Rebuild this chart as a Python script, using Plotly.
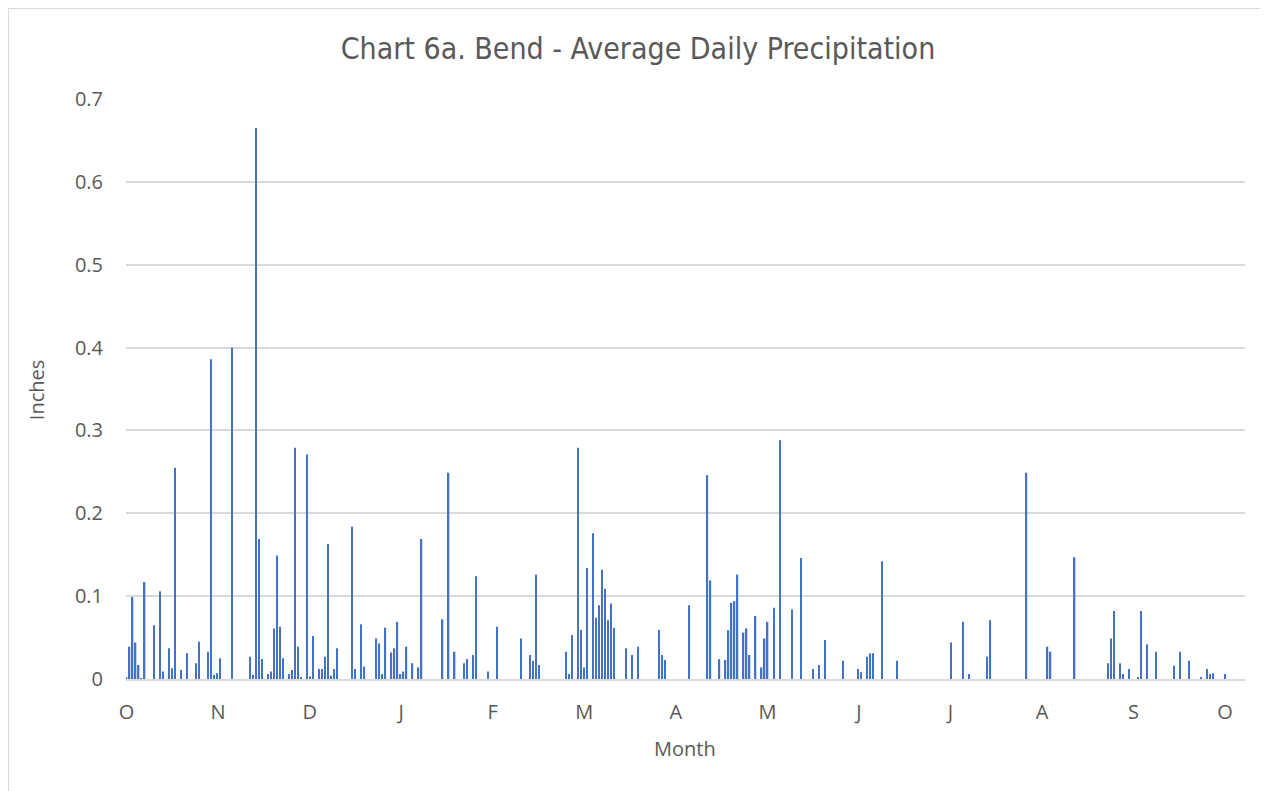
import plotly.graph_objects as go

# day index from Oct 1, average daily precipitation (inches)
days = [0, 1, 2, 3, 4, 5, 6, 9, 11, 12, 14, 15, 16, 18, 20, 23, 24, 27, 28, 29,
        30, 31, 35, 41, 42, 43, 44, 45, 47, 48, 49, 50, 51, 52, 54, 55, 56, 57, 58, 60,
        61, 62, 64, 65, 66, 67, 68, 69, 70, 75, 76, 78, 79, 83, 84, 85, 86, 88, 89, 90,
        91, 92, 93, 95, 97, 98, 105, 107, 109, 112, 113, 115, 116, 120, 123, 131, 134, 135, 136, 137,
        146, 147, 148, 150, 151, 152, 153, 155, 156, 157, 158, 159, 160, 161, 162, 166, 168, 170, 177, 178,
        179, 187, 193, 194, 197, 199, 200, 201, 202, 203, 205, 206, 207, 209, 211, 212, 213, 215, 217, 221,
        224, 228, 230, 232, 238, 243, 244, 246, 247, 248, 251, 256, 274, 278, 280, 286, 287, 299, 306, 307,
        315, 326, 327, 328, 330, 331, 333, 336, 337, 339, 342, 348, 350, 353, 357, 359, 360, 361, 365]
inches = [0.002, 0.039, 0.099, 0.044, 0.017, 0.001, 0.117, 0.065, 0.106, 0.009, 0.037, 0.013, 0.255, 0.011, 0.031, 0.019, 0.045, 0.033, 0.386, 0.005,
          0.007, 0.025, 0.400, 0.027, 0.005, 0.665, 0.169, 0.024, 0.006, 0.009, 0.061, 0.149, 0.063, 0.025, 0.006, 0.011, 0.279, 0.039, 0.002, 0.271,
          0.003, 0.052, 0.012, 0.012, 0.027, 0.163, 0.004, 0.012, 0.037, 0.184, 0.012, 0.066, 0.015, 0.049, 0.043, 0.006, 0.062, 0.032, 0.037, 0.069,
          0.006, 0.009, 0.039, 0.019, 0.014, 0.169, 0.072, 0.249, 0.033, 0.019, 0.024, 0.029, 0.124, 0.009, 0.063, 0.049, 0.029, 0.022, 0.126, 0.017,
          0.033, 0.006, 0.053, 0.279, 0.059, 0.014, 0.134, 0.176, 0.074, 0.089, 0.132, 0.109, 0.071, 0.091, 0.062, 0.037, 0.029, 0.039, 0.059, 0.029,
          0.023, 0.089, 0.246, 0.119, 0.024, 0.023, 0.059, 0.092, 0.094, 0.126, 0.056, 0.061, 0.029, 0.076, 0.014, 0.049, 0.069, 0.086, 0.288, 0.084,
          0.146, 0.012, 0.017, 0.047, 0.022, 0.012, 0.008, 0.027, 0.031, 0.031, 0.142, 0.022, 0.044, 0.069, 0.006, 0.027, 0.071, 0.249, 0.039, 0.033,
          0.147, 0.019, 0.049, 0.082, 0.019, 0.006, 0.012, 0.002, 0.082, 0.042, 0.033, 0.016, 0.033, 0.022, 0.002, 0.012, 0.006, 0.007, 0.006]

month_labels = ["O", "N", "D", "J", "F", "M", "A", "M", "J", "J", "A", "S", "O"]
month_ticks = [i * 365 / 12 for i in range(len(month_labels))]

grey = "#595959"
tick_font = dict(family="Open Sans, Noto Sans, sans-serif", size=20, color=grey)

# page body has an 8px margin, so the figure is a bit smaller than the window
W, H = 1260, 783
L, T = 118, 91
PW, PH = 1119, 580

fig = go.Figure()
fig.add_trace(go.Bar(x=days, y=inches, width=0.45,
                     marker=dict(color="#4472C4", line=dict(width=0))))

fig.update_layout(
    width=W, height=H,
    margin=dict(l=L, r=W - L - PW, t=T, b=H - T - PH),
    paper_bgcolor="white", plot_bgcolor="white",
    showlegend=False,
    title=dict(text="Chart 6a. Bend - Average Daily Precipitation",
               x=0.5, xanchor="center", y=1 - 40 / H, yanchor="middle",
               font=dict(family="Liberation Sans Narrow, DejaVu Sans Condensed, sans-serif",
                         size=30, color=grey)),
    xaxis=dict(range=[-0.2, 371.6], tickmode="array", tickvals=month_ticks,
               ticktext=month_labels, showgrid=False, zeroline=False,
               showline=True, linecolor="#D9D9D9", linewidth=1.5,
               ticks="", tickfont=tick_font, ticklabelstandoff=14),
    yaxis=dict(range=[0, 0.7], tickvals=[0, 0.1, 0.2, 0.3, 0.4, 0.5, 0.6, 0.7],
               ticktext=["0", "0.1", "0.2", "0.3", "0.4", "0.5", "0.6", "0.7"],
               showgrid=True, gridcolor="#D9D9D9", gridwidth=1.5,
               zeroline=False, showline=False, ticks="",
               tickfont=tick_font, ticklabelstandoff=22),
    annotations=[
        dict(text="Inches", xref="paper", yref="paper", x=(28 - L) / PW, y=0.498,
             textangle=-90, showarrow=False, xanchor="center", yanchor="middle",
             font=dict(family="Open Sans, Noto Sans, sans-serif", size=20, color=grey)),
        dict(text="Month", xref="paper", yref="paper", x=(677 - L) / PW, y=(PH - 740 + T) / PH,
             showarrow=False, xanchor="center", yanchor="middle",
             font=dict(family="Open Sans, Noto Sans, sans-serif", size=20, color=grey)),
    ],
    shapes=[dict(type="rect", xref="paper", yref="paper",
                 x0=(0.5 - L) / PW, x1=(1257 - L) / PW,
                 y0=(T + PH - 800) / PH, y1=(T + PH - 0.5) / PH,
                 line=dict(color="#D9D9D9", width=1), layer="below")],
)

fig.write_html("out.html")
